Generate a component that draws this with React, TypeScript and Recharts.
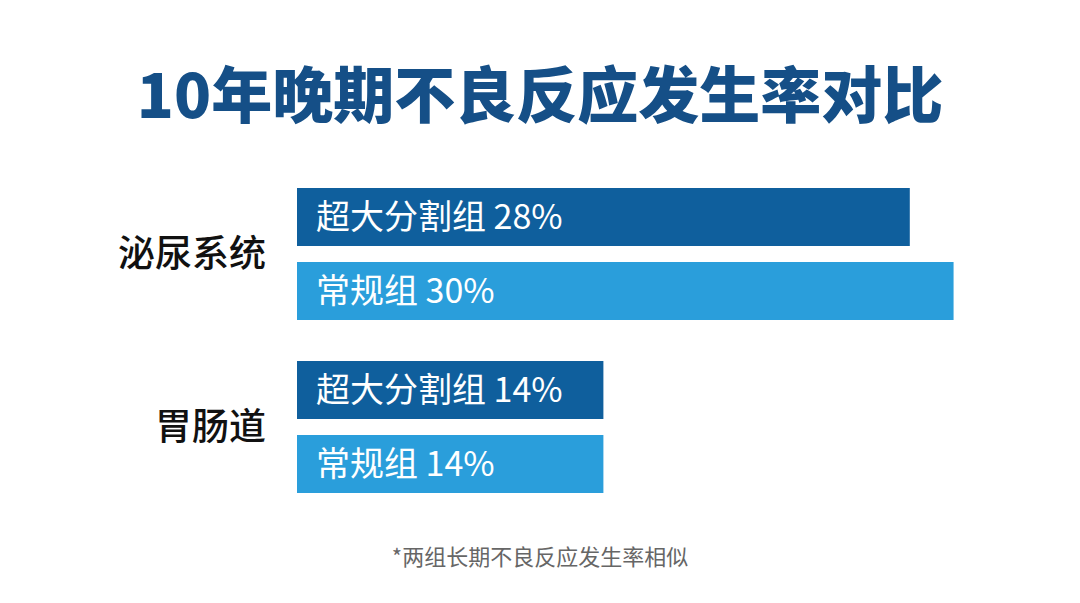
import React from "react";
import { BarChart, Bar, XAxis, YAxis, LabelList } from "recharts";

const categories = ["泌尿系统", "胃肠道"];
const hypoValues = [28, 14];
const conventionalValues = [30, 14];
const seriesNames = ["超大分割组", "常规组"];

const data = categories.map((name, i) => ({
  name,
  hypo: hypoValues[i],
  conventional: conventionalValues[i],
}));

const darkBlue = "#0f5f9d";
const lightBlue = "#2a9edb";
const font = "'Noto Sans CJK SC', 'Noto Sans', sans-serif";

const makeLabel = (prefix: string) => (value: any) => `${prefix} ${value}%`;

export default function App() {
  return (
    <div
      style={{
        position: "absolute",
        left: 0,
        top: 0,
        width: 1080,
        height: 603,
        background: "#fff",
        fontFamily: font,
      }}
    >
      <div
        style={{
          position: "absolute",
          left: 0,
          top: 50,
          width: 1080,
          textAlign: "center",
          fontSize: 61,
          fontWeight: 900,
          color: "#154f87",
          lineHeight: "84px",
        }}
      >
        10年晚期不良反应发生率对比
      </div>
      <BarChart
        width={1080}
        height={603}
        data={data}
        layout="vertical"
        margin={{ top: 167, right: 17, bottom: 90, left: 0 }}
        barGap={16}
        barCategoryGap={20}
      >
        <XAxis type="number" domain={[0, 35]} hide />
        <YAxis
          type="category"
          dataKey="name"
          width={297}
          axisLine={false}
          tickLine={false}
          tickSize={0}
          tickMargin={31}
          tick={{ fill: "#111", fontSize: 37, fontWeight: 500, fontFamily: font }}
        />
        <Bar dataKey="hypo" fill={darkBlue} barSize={58} isAnimationActive={false}>
          <LabelList
            dataKey="hypo"
            position="insideLeft"
            offset={19}
            formatter={makeLabel(seriesNames[0])}
            style={{ fill: "#fff", fontSize: 34, fontFamily: font }}
          />
        </Bar>
        <Bar dataKey="conventional" fill={lightBlue} barSize={58} isAnimationActive={false}>
          <LabelList
            dataKey="conventional"
            position="insideLeft"
            offset={19}
            formatter={makeLabel(seriesNames[1])}
            style={{ fill: "#fff", fontSize: 34, fontFamily: font }}
          />
        </Bar>
      </BarChart>
      <div
        style={{
          position: "absolute",
          left: 0,
          top: 540,
          width: 1080,
          textAlign: "center",
          fontSize: 22,
          color: "#666",
          lineHeight: "30px",
        }}
      >
        *两组长期不良反应发生率相似
      </div>
    </div>
  );
}
